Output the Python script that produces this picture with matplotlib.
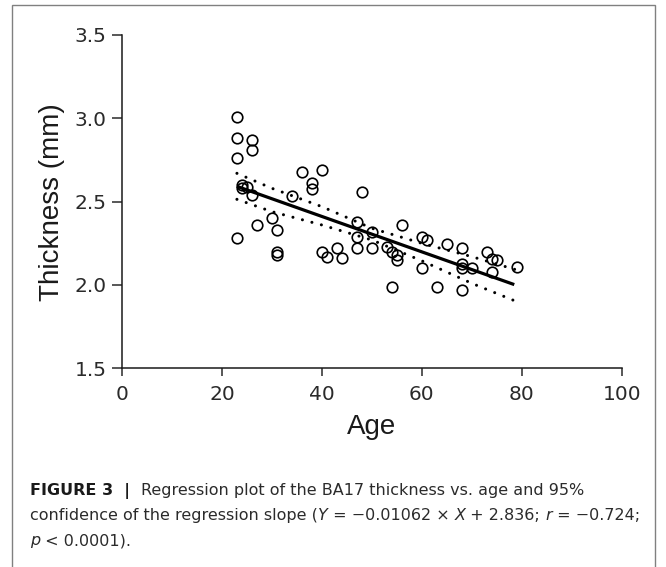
import matplotlib

matplotlib.use("Agg")
import matplotlib.pyplot as plt  # noqa: E402
from matplotlib.patches import Rectangle  # noqa: E402

# scatter points (age, thickness in mm)
age = [23, 23, 26, 26, 23, 24, 24, 25, 26, 23, 27, 30, 31, 31, 31,
       34, 36, 40, 38, 38, 48, 40, 41, 43, 44, 47, 47, 47, 50, 50,
       56, 53, 54, 55, 55, 60, 61, 60, 54, 63, 65, 68, 68, 68, 70,
       68, 73, 74, 75, 74, 79]
thickness = [3.01, 2.88, 2.87, 2.81, 2.76, 2.60, 2.58, 2.59, 2.54, 2.28, 2.36, 2.40, 2.33, 2.20, 2.18,
             2.535, 2.68, 2.69, 2.61, 2.575, 2.56, 2.20, 2.17, 2.22, 2.16, 2.38, 2.29, 2.22, 2.32, 2.22,
             2.36, 2.23, 2.20, 2.18, 2.15, 2.29, 2.27, 2.10, 1.99, 1.985, 2.245, 2.22, 2.125, 2.10, 2.10,
             1.97, 2.20, 2.155, 2.15, 2.08, 2.11]

# fitted line from the caption: Y = -0.01062 * X + 2.836
slope = -0.01062
intercept = 2.836
fit_x = [23, 78.5]

# 95% confidence band
band_x = [23, 30, 40, 50, 60, 70, 79]
band_hi = [2.67, 2.58, 2.47, 2.34, 2.25, 2.17, 2.09]
band_lo = [2.514, 2.44, 2.36, 2.27, 2.145, 2.01, 1.90]

xticks = [0, 20, 40, 60, 80, 100]
yticks = [1.5, 2.0, 2.5, 3.0, 3.5]

W, H = 666, 567
ink = "#1a1a1a"
sans = ["Liberation Sans", "DejaVu Sans"]
wide = ["DejaVu Sans"]

fig = plt.figure(figsize=(W / 100, H / 100), dpi=100)

# grey frame around the panel
fig.patches.append(Rectangle((12 / W, -0.05), (655 - 12) / W, 1.05 - 5 / H,
                             transform=fig.transFigure, fill=False,
                             edgecolor="#808080", lw=1.0))

ax = fig.add_axes([122 / W, 1 - 368.3 / H, (621.7 - 122) / W, (368.3 - 35) / H])
ax.plot(age, thickness, "o", ms=7.6, mfc="none", mec="black", mew=1.2, clip_on=False)
ax.plot(fit_x, [slope * x + intercept for x in fit_x], color="black", lw=2.3,
        solid_capstyle="butt")
for band in (band_hi, band_lo):
    ax.plot(band_x, band, color="black", lw=2.2, linestyle=(0, (0.01, 3.2)),
            dash_capstyle="round")

ax.set_xlim(0, 100)
ax.set_ylim(1.5, 3.5)
ax.set_xticks(xticks)
ax.set_xticklabels([str(t) for t in xticks])
ax.set_yticks(yticks)
ax.set_yticklabels([f"{t:.1f}" for t in yticks])
for s in ("top", "right"):
    ax.spines[s].set_visible(False)
for s in ("left", "bottom"):
    ax.spines[s].set_linewidth(1.1)
    ax.spines[s].set_color(ink)
ax.tick_params(axis="x", length=6, width=1.1, pad=6, labelsize=14.5, colors="#2a2a2a")
ax.tick_params(axis="y", length=7, width=1.1, pad=4, labelsize=14.5, colors="#2a2a2a")
for lab in ax.get_xticklabels() + ax.get_yticklabels():
    lab.set_family(wide)
ax.set_xlabel("Age", fontsize=20, family=sans, color=ink, labelpad=7)
ax.set_ylabel("Thickness (mm)", fontsize=20, family=sans, color=ink, labelpad=7)

# caption, built from styled pieces laid side by side
renderer = fig.canvas.get_renderer()


def caption_line(x_px, y_px, pieces):
    x = x_px
    for text, kw in pieces:
        style = {"fontsize": 11.5, "family": wide, "color": "#2b2b2b"}
        style.update(kw)
        t = fig.text(x / W, 1 - y_px / H, text, va="baseline", ha="left", **style)
        x += t.get_window_extent(renderer).width


plain = {}
bold = {"weight": "bold", "color": "#1a1a1a"}
ital = {"style": "italic"}
caption_line(30, 495, [("FIGURE 3", bold), ("  |  ", bold),
                       ("Regression plot of the BA17 thickness vs. age and 95%", plain)])
caption_line(30, 520, [("confidence of the regression slope (", plain), ("Y", ital),
                       (" = \u22120.01062 \u00d7 ", plain), ("X", ital),
                       (" + 2.836; ", plain), ("r", ital), (" = \u22120.724;", plain)])
caption_line(30, 545, [("p", ital), (" < 0.0001).", plain)])

fig.savefig("out.png", dpi=100)
